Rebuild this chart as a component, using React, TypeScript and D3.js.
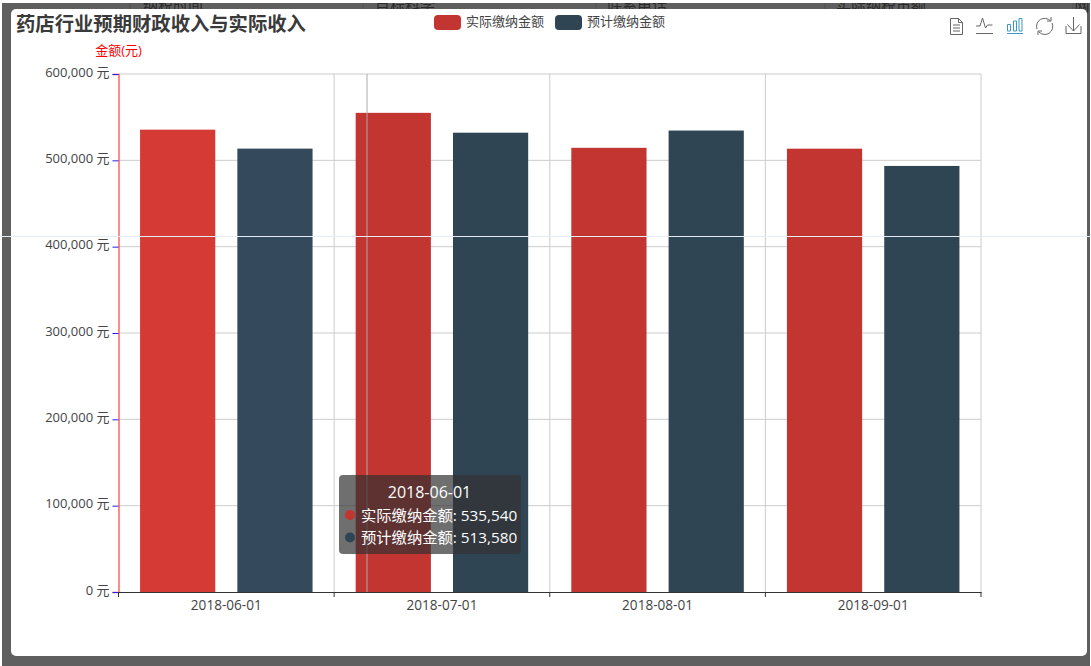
import * as React from 'react'
import { useEffect, useRef } from 'react'
import * as d3 from 'd3'

const categories = ['2018-06-01', '2018-07-01', '2018-08-01', '2018-09-01']
const seriesNames = ['实际缴纳金额', '预计缴纳金额']
const actualValues = [535540, 555000, 514500, 513500]
const plannedValues = [513580, 532000, 534500, 493500]
const yTicks = [0, 100000, 200000, 300000, 400000, 500000, 600000]
const backdropLabels = ['纳税时间', '目标科学', '联系电话', '实际纳税市额', '网']

const width = 1091
const height = 666
const colors = ['#c23531', '#2f4554']
const hoverColors = ['#d63a35', '#34495c']
const fontFamily = '"Open Sans", "Noto Sans CJK SC", sans-serif'

export default function App() {
  const svgRef = useRef<SVGSVGElement>(null)

  useEffect(() => {
    if (!svgRef.current) return

    const svg = d3.select(svgRef.current)
    svg.selectAll('*').remove()
    svg.attr('font-family', fontFamily)

    const left = 118.5
    const right = 981
    const top = 74
    const bottom = 592

    const xScale = d3.scaleBand()
      .domain(categories)
      .range([left, right])
      .paddingInner(0.2)
      .paddingOuter(0.1)
    const seriesScale = d3.scaleBand()
      .domain(seriesNames)
      .range([0, xScale.bandwidth()])
      .paddingInner(0.227)
    const yScale = d3.scaleLinear().domain([0, 600000]).range([bottom, top])
    const step = xScale.step()

    // Page behind the modal
    svg.append('rect').attr('width', width).attr('height', height).attr('fill', '#5f5f5f')

    const backdropX = [173, 405, 637, 881, 1082]
    backdropLabels.forEach((label, i) => {
      svg.append('text')
        .attr('x', backdropX[i])
        .attr('y', 11)
        .attr('text-anchor', 'middle')
        .attr('font-size', 15)
        .attr('fill', '#2a2a2a')
        .text(label)
    })
    const backdropLines = [130, 363, 596, 825, 1073]
    backdropLines.forEach(x => {
      svg.append('line')
        .attr('x1', x).attr('x2', x)
        .attr('y1', 3).attr('y2', 9)
        .attr('stroke', '#505050')
    })

    // White edge of the screenshot, over the cut-off header labels
    svg.append('rect').attr('width', width).attr('height', 3).attr('fill', '#ffffff')
    svg.append('rect').attr('width', 2).attr('height', height).attr('fill', '#ffffff')
    svg.append('rect').attr('x', 1090).attr('width', 1).attr('height', height).attr('fill', '#ffffff')

    svg.append('rect')
      .attr('x', 11).attr('y', 9)
      .attr('width', 1076).attr('height', 647)
      .attr('rx', 5)
      .attr('fill', '#ffffff')

    // Grid
    const grid = svg.append('g').attr('stroke', '#cccccc').attr('stroke-width', 1)
    yTicks.filter(t => t > 0).forEach(t => {
      grid.append('line')
        .attr('x1', left).attr('x2', right)
        .attr('y1', yScale(t)).attr('y2', yScale(t))
    })
    categories.forEach((c, i) => {
      const x = left + step * (i + 1)
      grid.append('line')
        .attr('x1', x).attr('x2', x)
        .attr('y1', top).attr('y2', bottom)
    })

    // Bars
    const seriesValues = [actualValues, plannedValues]
    seriesValues.forEach((values, s) => {
      svg.append('g')
        .selectAll('rect')
        .data(values)
        .join('rect')
        .attr('x', (_, i) => xScale(categories[i])! + seriesScale(seriesNames[s])!)
        .attr('y', d => yScale(d))
        .attr('width', seriesScale.bandwidth())
        .attr('height', d => bottom - yScale(d))
        .attr('fill', (_, i) => (i === 0 ? hoverColors[s] : colors[s]))
    })

    // Axes
    const yAxis = d3.axisLeft(yScale)
      .tickValues(yTicks)
      .tickSize(6)
      .tickPadding(3)
      .tickFormat(d => `${d3.format(',')(d as number)} 元`)
    const yGroup = svg.append('g')
      .attr('transform', `translate(${left}, 0)`)
      .call(yAxis as any)
    yGroup.select('.domain').attr('stroke', '#ff5a5a').attr('stroke-width', 1.4)
    yGroup.selectAll('.tick line').attr('stroke', '#2222ee')
    yGroup.selectAll('.tick text')
      .attr('font-size', 13)
      .attr('dy', '0.17em')
      .attr('font-family', fontFamily)
      .attr('fill', '#444444')

    const xAxis = d3.axisBottom(xScale).tickSize(0).tickPadding(8)
    const xGroup = svg.append('g')
      .attr('transform', `translate(0, ${bottom})`)
      .call(xAxis as any)
    xGroup.select('.domain').attr('stroke', '#333333')
    xGroup.selectAll('.tick text')
      .attr('font-size', 13.6)
      .attr('font-family', fontFamily)
      .attr('fill', '#444444')
    d3.range(categories.length + 1).forEach(i => {
      const x = left + step * i
      xGroup.append('line')
        .attr('x1', x).attr('x2', x)
        .attr('y1', 0).attr('y2', 5)
        .attr('stroke', '#333333')
    })

    // Y axis name
    svg.append('text')
      .attr('x', 118.5)
      .attr('y', 54.5)
      .attr('text-anchor', 'middle')
      .attr('font-size', 13)
      .attr('fill', '#ff0000')
      .text('金额(元)')

    // Title
    svg.append('text')
      .attr('x', 16)
      .attr('y', 31)
      .attr('font-size', 19.33)
      .attr('font-weight', 700)
      .attr('fill', '#3a3a3a')
      .text('药店行业预期财政收入与实际收入')

    // Legend
    const legendX = [434, 555]
    seriesNames.forEach((name, i) => {
      svg.append('rect')
        .attr('x', legendX[i]).attr('y', 15)
        .attr('width', 27).attr('height', 15)
        .attr('rx', 4)
        .attr('fill', colors[i])
      svg.append('text')
        .attr('x', legendX[i] + 32)
        .attr('y', 25.5)
        .attr('font-size', 13)
        .attr('fill', '#444444')
        .text(name)
    })

    // Toolbox icons
    const icons = svg.append('g')
      .attr('fill', 'none')
      .attr('stroke', '#666666')
      .attr('stroke-width', 1)
    icons.append('path').attr('d', 'M950.500 18.500h8l4 4v12h-12zM958.500 18.500v4h4M953 25h7M953 28h7M953 31h7')
    icons.append('path').attr('d', 'M976 33.500h17M976 26h4l2.500-8 3 10 2-3h5')
    const barIcon = svg.append('g')
      .attr('fill', 'none')
      .attr('stroke', '#3e98c5')
      .attr('stroke-width', 1)
    barIcon.append('path').attr('d', 'M1007 33.500h16M1007.500 24.500h3v6.500h-3zM1013.500 21h3v10h-3zM1019 18.500h3v12.500h-3z')
    icons.append('path').attr('d', 'M1037 29a8 8 0 0 1 13.500-8M1052 23a8 8 0 0 1-13 9M1051 17v4h-4M1038 35v-4h4')
    icons.append('path').attr('d', 'M1066 26v7.500h15V26M1073.500 17v14M1067.500 24.500l6 6.500 6-6.500')

    // Axis pointer lines from the hover state
    svg.append('line')
      .attr('x1', 367).attr('x2', 367)
      .attr('y1', top).attr('y2', bottom)
      .attr('stroke', '#aaaaaa')
    svg.append('line')
      .attr('x1', 0).attr('x2', width)
      .attr('y1', 236.500).attr('y2', 236.500)
      .attr('stroke', '#e6ebf8')

    // Tooltip
    const tooltip = svg.append('g')
    tooltip.append('rect')
      .attr('x', 339).attr('y', 475)
      .attr('width', 182).attr('height', 79)
      .attr('rx', 4)
      .attr('fill', 'rgba(50,50,50,0.7)')
    tooltip.append('text')
      .attr('x', 429.500)
      .attr('y', 497.500)
      .attr('text-anchor', 'middle')
      .attr('font-size', 16)
      .attr('fill', '#ffffff')
      .text(categories[0])
    seriesNames.forEach((name, i) => {
      const rowY = 515 + i * 22.500
      tooltip.append('circle')
        .attr('cx', 350).attr('cy', rowY)
        .attr('r', 5)
        .attr('fill', colors[i])
      tooltip.append('text')
        .attr('x', 361)
        .attr('y', rowY + 5.500)
        .attr('font-size', 15.300)
        .attr('fill', '#ffffff')
        .text(`${name}: ${d3.format(',')(seriesValues[i][0])}`)
    })
  }, [])

  return (
    <svg
      ref={svgRef}
      width={width}
      height={height}
      style={{ position: 'absolute', left: 0, top: 0, display: 'block' }}
    />
  )
}
